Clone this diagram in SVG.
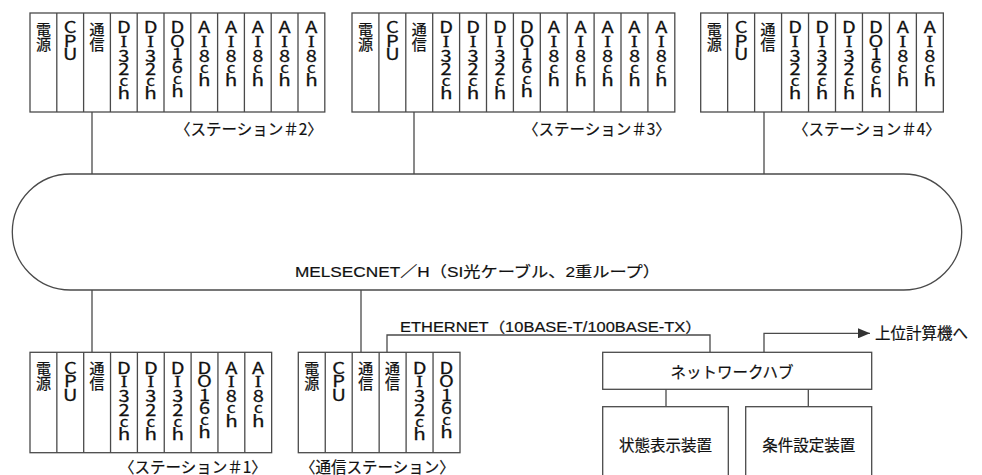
<svg xmlns="http://www.w3.org/2000/svg" width="982" height="475" viewBox="0 0 982 475">
<defs>
<style>
.ln{fill:none;stroke:#4a4a4a;stroke-width:1.3}
.bx{fill:#fff;stroke:#4a4a4a;stroke-width:1.3}
.vk{writing-mode:vertical-rl;font-family:"Noto Sans CJK JP",sans-serif;font-size:15px;fill:#111;stroke:#111;stroke-width:0.25}
.v{writing-mode:vertical-rl;text-orientation:upright;font-family:"Noto Sans CJK JP",sans-serif;font-size:16px;letter-spacing:-2.7px;fill:#111;stroke:#111;stroke-width:0.25}
.s{font-family:"Liberation Serif",serif}
.c{font-size:13.5px}
.h{font-size:16.5px}
.jp{font-family:"Noto Sans CJK JP",sans-serif;font-size:15.5px;fill:#111;stroke:#111;stroke-width:0.2}
.lab{font-family:"Liberation Sans","Noto Sans CJK JP",sans-serif;fill:#111;stroke:#111;stroke-width:0.2}
</style>
<marker id="arr" viewBox="0 0 12 10" refX="12" refY="5" markerWidth="12" markerHeight="10" markerUnits="userSpaceOnUse" orient="auto">
<path d="M0,0 L12,5 L0,10 Z" fill="#333"/>
</marker>
</defs>

<g id="loop">
<rect class="ln" x="12.3" y="174" width="949.4" height="116" rx="58" ry="58"/>
<text class="lab" x="295" y="276.5" font-size="15" textLength="365" lengthAdjust="spacingAndGlyphs">MELSECNET／H（SI光ケーブル、2重ループ）</text>
</g>

<g id="connectors">
<path class="ln" d="M92,112 V174"/>
<path class="ln" d="M414,112 V174"/>
<path class="ln" d="M764,112 V174"/>
<path class="ln" d="M92,290 V352.3"/>
<path class="ln" d="M361,290 V352.3"/>
<path class="ln" d="M387,352.3 V335 H710 V352.3"/>
<path class="ln" d="M764,352.3 V333.3 H870" marker-end="url(#arr)"/>
<path class="ln" d="M666,389.3 V406.7"/>
<path class="ln" d="M808.3,389.3 V406.7"/>
<text class="lab" x="400" y="331.5" font-size="14" textLength="301.7" lengthAdjust="spacingAndGlyphs">ETHERNET（10BASE-T/100BASE-TX）</text>
<text class="jp" x="875" y="339" font-size="17">上位計算機へ</text>
</g>

<g id="station2">
<rect class="bx" x="30" y="13" width="294.8" height="99"/>
<path class="ln" d="M56.8,13V112M83.6,13V112M110.4,13V112M137.2,13V112M164,13V112M190.8,13V112M217.6,13V112M244.4,13V112M271.2,13V112M298,13V112"/>
<text class="vk" x="43.4" y="21.5">電源</text>
<text class="v" transform="translate(70.2,0) scale(1.25,1)" y="19.3">CPU</text>
<text class="vk" x="97" y="21.5">通信</text>
<text class="v" transform="translate(123.8,0) scale(1.25,1)" y="19.3">D<tspan class="s">I</tspan>32<tspan class="c">c</tspan><tspan class="h">h</tspan></text>
<text class="v" transform="translate(150.6,0) scale(1.25,1)" y="19.3">D<tspan class="s">I</tspan>32<tspan class="c">c</tspan><tspan class="h">h</tspan></text>
<text class="v" transform="translate(177.4,0) scale(1.25,1)" y="19.3">DO16<tspan class="c">c</tspan><tspan class="h">h</tspan></text>
<text class="v" transform="translate(204.2,0) scale(1.25,1)" y="19.3">A<tspan class="s">I</tspan>8<tspan class="c">c</tspan><tspan class="h">h</tspan></text>
<text class="v" transform="translate(231,0) scale(1.25,1)" y="19.3">A<tspan class="s">I</tspan>8<tspan class="c">c</tspan><tspan class="h">h</tspan></text>
<text class="v" transform="translate(257.8,0) scale(1.25,1)" y="19.3">A<tspan class="s">I</tspan>8<tspan class="c">c</tspan><tspan class="h">h</tspan></text>
<text class="v" transform="translate(284.6,0) scale(1.25,1)" y="19.3">A<tspan class="s">I</tspan>8<tspan class="c">c</tspan><tspan class="h">h</tspan></text>
<text class="v" transform="translate(311.4,0) scale(1.25,1)" y="19.3">A<tspan class="s">I</tspan>8<tspan class="c">c</tspan><tspan class="h">h</tspan></text>
<text class="jp" x="175" y="134.5">〈ステーション＃2〉</text>
</g>

<g id="station3">
<rect class="bx" x="352" y="13" width="322.8" height="99"/>
<path class="ln" d="M378.9,13V112M405.8,13V112M432.7,13V112M459.6,13V112M486.5,13V112M513.4,13V112M540.3,13V112M567.2,13V112M594.1,13V112M621,13V112M647.9,13V112"/>
<text class="vk" x="365.45" y="21.5">電源</text>
<text class="v" transform="translate(392.35,0) scale(1.25,1)" y="19.3">CPU</text>
<text class="vk" x="419.25" y="21.5">通信</text>
<text class="v" transform="translate(446.15,0) scale(1.25,1)" y="19.3">D<tspan class="s">I</tspan>32<tspan class="c">c</tspan><tspan class="h">h</tspan></text>
<text class="v" transform="translate(473.05,0) scale(1.25,1)" y="19.3">D<tspan class="s">I</tspan>32<tspan class="c">c</tspan><tspan class="h">h</tspan></text>
<text class="v" transform="translate(499.95,0) scale(1.25,1)" y="19.3">D<tspan class="s">I</tspan>32<tspan class="c">c</tspan><tspan class="h">h</tspan></text>
<text class="v" transform="translate(526.85,0) scale(1.25,1)" y="19.3">DO16<tspan class="c">c</tspan><tspan class="h">h</tspan></text>
<text class="v" transform="translate(553.75,0) scale(1.25,1)" y="19.3">A<tspan class="s">I</tspan>8<tspan class="c">c</tspan><tspan class="h">h</tspan></text>
<text class="v" transform="translate(580.65,0) scale(1.25,1)" y="19.3">A<tspan class="s">I</tspan>8<tspan class="c">c</tspan><tspan class="h">h</tspan></text>
<text class="v" transform="translate(607.55,0) scale(1.25,1)" y="19.3">A<tspan class="s">I</tspan>8<tspan class="c">c</tspan><tspan class="h">h</tspan></text>
<text class="v" transform="translate(634.45,0) scale(1.25,1)" y="19.3">A<tspan class="s">I</tspan>8<tspan class="c">c</tspan><tspan class="h">h</tspan></text>
<text class="v" transform="translate(661.35,0) scale(1.25,1)" y="19.3">A<tspan class="s">I</tspan>8<tspan class="c">c</tspan><tspan class="h">h</tspan></text>
<text class="jp" x="523" y="134.5">〈ステーション＃3〉</text>
</g>

<g id="station4">
<rect class="bx" x="700.7" y="13" width="242.64" height="99"/>
<path class="ln" d="M727.66,13V112M754.62,13V112M781.58,13V112M808.54,13V112M835.5,13V112M862.46,13V112M889.42,13V112M916.38,13V112"/>
<text class="vk" x="714.18" y="21.5">電源</text>
<text class="v" transform="translate(741.14,0) scale(1.25,1)" y="19.3">CPU</text>
<text class="vk" x="768.1" y="21.5">通信</text>
<text class="v" transform="translate(795.06,0) scale(1.25,1)" y="19.3">D<tspan class="s">I</tspan>32<tspan class="c">c</tspan><tspan class="h">h</tspan></text>
<text class="v" transform="translate(822.02,0) scale(1.25,1)" y="19.3">D<tspan class="s">I</tspan>32<tspan class="c">c</tspan><tspan class="h">h</tspan></text>
<text class="v" transform="translate(848.98,0) scale(1.25,1)" y="19.3">D<tspan class="s">I</tspan>32<tspan class="c">c</tspan><tspan class="h">h</tspan></text>
<text class="v" transform="translate(875.94,0) scale(1.25,1)" y="19.3">DO16<tspan class="c">c</tspan><tspan class="h">h</tspan></text>
<text class="v" transform="translate(902.9,0) scale(1.25,1)" y="19.3">A<tspan class="s">I</tspan>8<tspan class="c">c</tspan><tspan class="h">h</tspan></text>
<text class="v" transform="translate(929.86,0) scale(1.25,1)" y="19.3">A<tspan class="s">I</tspan>8<tspan class="c">c</tspan><tspan class="h">h</tspan></text>
<text class="jp" x="793" y="134.5">〈ステーション＃4〉</text>
</g>

<g id="station1">
<rect class="bx" x="30" y="352.3" width="241.65" height="100.4"/>
<path class="ln" d="M56.85,352.3V452.7M83.7,352.3V452.7M110.55,352.3V452.7M137.4,352.3V452.7M164.25,352.3V452.7M191.1,352.3V452.7M217.95,352.3V452.7M244.8,352.3V452.7"/>
<text class="vk" x="43.4" y="361">電源</text>
<text class="v" transform="translate(70.3,0) scale(1.25,1)" y="360">CPU</text>
<text class="vk" x="97.1" y="361">通信</text>
<text class="v" transform="translate(124,0) scale(1.25,1)" y="360">D<tspan class="s">I</tspan>32<tspan class="c">c</tspan><tspan class="h">h</tspan></text>
<text class="v" transform="translate(150.8,0) scale(1.25,1)" y="360">D<tspan class="s">I</tspan>32<tspan class="c">c</tspan><tspan class="h">h</tspan></text>
<text class="v" transform="translate(177.7,0) scale(1.25,1)" y="360">D<tspan class="s">I</tspan>32<tspan class="c">c</tspan><tspan class="h">h</tspan></text>
<text class="v" transform="translate(204.5,0) scale(1.25,1)" y="360">DO16<tspan class="c">c</tspan><tspan class="h">h</tspan></text>
<text class="v" transform="translate(231.4,0) scale(1.25,1)" y="360">A<tspan class="s">I</tspan>8<tspan class="c">c</tspan><tspan class="h">h</tspan></text>
<text class="v" transform="translate(258.2,0) scale(1.25,1)" y="360">A<tspan class="s">I</tspan>8<tspan class="c">c</tspan><tspan class="h">h</tspan></text>
<text class="jp" x="119" y="472.5">〈ステーション＃1〉</text>
</g>

<g id="comm-station">
<rect class="bx" x="298.3" y="352.3" width="161.7" height="100.4"/>
<path class="ln" d="M325.25,352.3V452.7M352.2,352.3V452.7M379.15,352.3V452.7M406.1,352.3V452.7M433.05,352.3V452.7"/>
<text class="vk" x="311.8" y="361">電源</text>
<text class="v" transform="translate(338.7,0) scale(1.25,1)" y="360">CPU</text>
<text class="vk" x="365.7" y="361">通信</text>
<text class="vk" x="392.6" y="361">通信</text>
<text class="v" transform="translate(419.6,0) scale(1.25,1)" y="360">D<tspan class="s">I</tspan>32<tspan class="c">c</tspan><tspan class="h">h</tspan></text>
<text class="v" transform="translate(446.5,0) scale(1.25,1)" y="360">DO16<tspan class="c">c</tspan><tspan class="h">h</tspan></text>
<text class="jp" x="300" y="472.5">〈通信ステーション〉</text>
</g>

<g id="hub">
<rect class="bx" x="602.7" y="352.3" width="269" height="37"/>
<text class="jp" x="732" y="378" font-size="14.5" text-anchor="middle">ネットワークハブ</text>
</g>

<g id="status-display">
<rect class="bx" x="602.7" y="406.7" width="125.6" height="80"/>
<text class="jp" x="665.5" y="450.5" font-size="17" text-anchor="middle">状態表示装置</text>
</g>

<g id="condition-setting">
<rect class="bx" x="745.7" y="406.7" width="126" height="80"/>
<text class="jp" x="808.7" y="450.5" font-size="17" text-anchor="middle">条件設定装置</text>
</g>
</svg>
